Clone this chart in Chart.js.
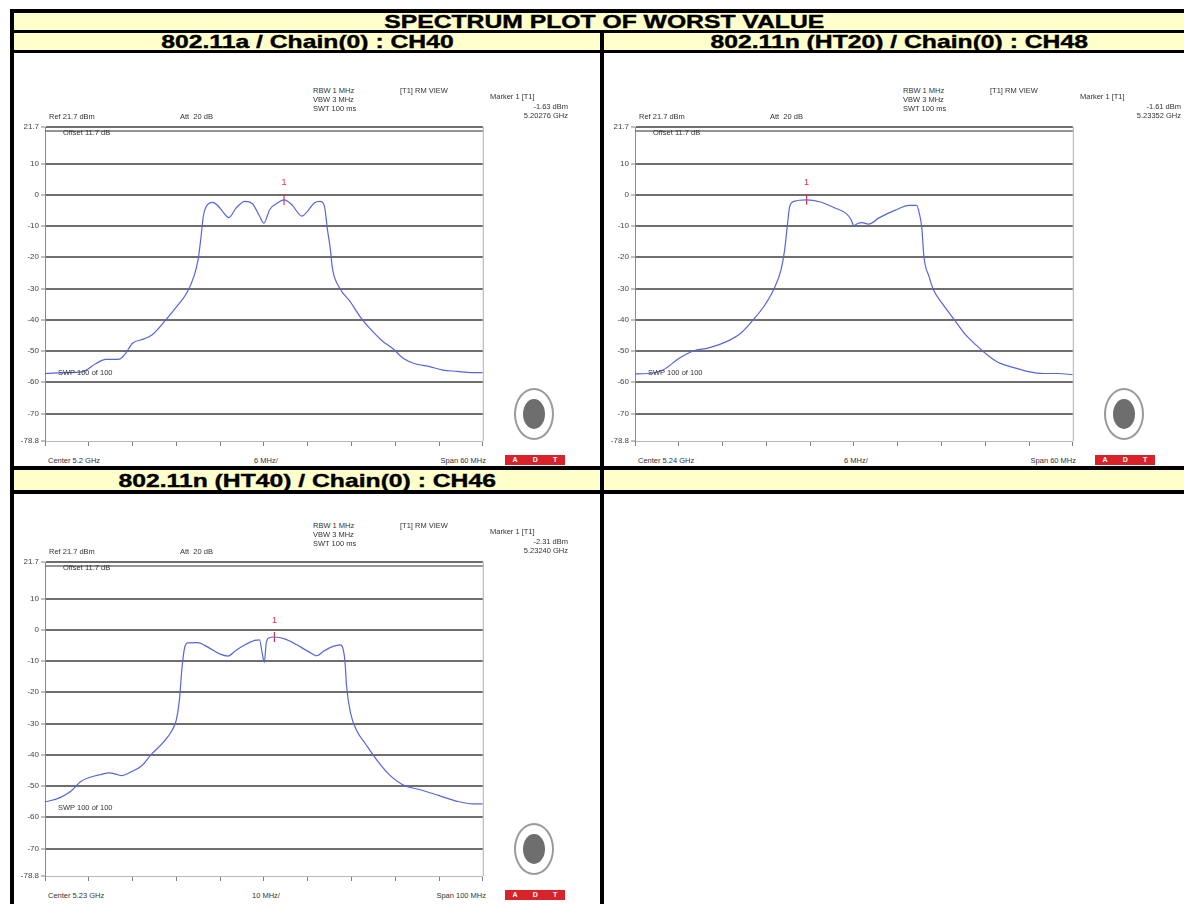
<!DOCTYPE html>
<html>
<head>
<meta charset="utf-8">
<script src="https://cdn.jsdelivr.net/npm/chart.js@4"></script>
<style>
body{margin:0;width:1184px;height:904px;overflow:hidden;background:#fff;position:relative;font-family:"Liberation Sans",Arial,sans-serif}
.box{position:absolute}
.hdr{position:absolute;background:#FFFFCC;display:flex;align-items:center;justify-content:center;overflow:hidden}
.hdr span{display:inline-block;font-weight:bold;font-size:19px;line-height:17px;color:#000;transform:scaleX(1.3);white-space:nowrap;-webkit-text-stroke:0.4px #000}
.t{position:absolute;font-size:7.5px;line-height:9px;color:#333;white-space:nowrap}
.r{text-align:right}
.logo{position:absolute;width:36px;height:48px;border:2px solid #9a9a9a;border-radius:50%;background:#fff}
.logo i{position:absolute;left:7px;top:9px;width:22px;height:30px;border-radius:50%;background:#6e6e6e}
.adt{position:absolute;width:60px;height:10px;background:#d9232a;color:#fff;font-size:7px;font-weight:bold;line-height:10px;display:flex;justify-content:space-around}
canvas{position:absolute}
</style>
</head>
<body>
<div class="box" style="left:10px;top:9px;width:1184px;height:900px;background:#000"></div>
<div class="hdr" style="left:14px;top:13px;width:1180px;height:17px"><span>SPECTRUM PLOT OF WORST VALUE</span></div>
<div class="hdr" style="left:14px;top:33px;width:586px;height:17px"><span>802.11a / Chain(0) : CH40</span></div>
<div class="hdr" style="left:604px;top:33px;width:590px;height:17px"><span>802.11n (HT20) / Chain(0) : CH48</span></div>
<div class="box" style="left:14px;top:53px;width:586px;height:413px;background:#fff"></div>
<div class="box" style="left:604px;top:53px;width:590px;height:413px;background:#fff"></div>
<div class="hdr" style="left:14px;top:470px;width:586px;height:20px"><span>802.11n (HT40) / Chain(0) : CH46</span></div>
<div class="hdr" style="left:604px;top:470px;width:590px;height:20px"></div>
<div class="box" style="left:14px;top:494px;width:586px;height:420px;background:#fff"></div>
<div class="box" style="left:604px;top:494px;width:590px;height:420px;background:#fff"></div>

<canvas id="cA" width="475" height="334" style="left:14px;top:117px"></canvas>
<canvas id="cB" width="475" height="334" style="left:604px;top:117px"></canvas>
<canvas id="cC" width="475" height="334" style="left:14px;top:552px"></canvas>

<div id="texts"></div>

<script>
// ---------- data ----------
const yTicks = [21.7, 10, 0, -10, -20, -30, -40, -50, -60, -70, -78.8];
const xTicksA = [-30, -24, -18, -12, -6, 0, 6, 12, 18, 24, 30];
const xTicksB = [-30, -24, -18, -12, -6, 0, 6, 12, 18, 24, 30];
const xTicksC = [-50, -40, -30, -20, -10, 0, 10, 20, 30, 40, 50];

// 802.11a CH40 : offset from 5.2 GHz (MHz) / level (dBm)
const freqA = [-30,-27,-25,-23,-21.7,-20.5,-19.7,-19,-18,-16.5,-15.3,-13.5,-12.1,-10.6,-9.6,-9.0,-8.6,-8.3,-7.7,-7.0,-6.3,-5.5,-4.8,-3.8,-2.6,-1.6,-0.6,0,0.8,2.0,2.76,3.8,5.2,6.0,6.9,7.7,8.3,8.7,9.1,9.4,10.4,11.8,13.3,14.8,16.2,17.7,19.2,20.6,22.6,24.5,26.5,28.4,30];
const levelA = [-57.2,-56.9,-56.7,-54,-52.7,-52.7,-52.5,-50.9,-47.5,-46.2,-44.8,-40.2,-36.2,-31.5,-26.2,-20.5,-13.1,-6.8,-3.1,-2.4,-3.5,-5.8,-7.3,-4.2,-2.1,-2.8,-6.8,-9.1,-4.7,-2.4,-1.63,-3.1,-6.8,-5.2,-2.6,-2.1,-3.7,-11,-17.3,-23.6,-29.9,-34.1,-39.4,-43.5,-46.7,-49.3,-52.5,-54,-54.9,-56.1,-56.5,-56.9,-56.9];

// 802.11n HT20 CH48 : offset from 5.24 GHz
const freqB = [-30,-28.1,-26.1,-24,-22,-19.9,-17.1,-15.6,-13.8,-12.3,-10.9,-10,-9.5,-9.1,-8.8,-8.2,-6.48,-4.6,-2.6,-1.0,-0.4,0,0.5,1.1,2.0,3.5,5.6,7.6,8.6,9.0,9.3,9.6,10.3,10.9,12.2,13.7,15.2,16.8,18.3,19.8,21.9,23.9,26,28,30];
const levelB = [-57.3,-57.2,-56,-52.4,-50,-49,-46.6,-44.5,-40,-35.6,-29.8,-24.1,-17.8,-9.4,-3.7,-2.1,-1.61,-2.3,-4.2,-6.1,-7.9,-9.9,-9.2,-8.9,-9.4,-7.3,-5,-3.4,-3.4,-6.3,-10.5,-19.9,-26.2,-30.4,-35.1,-39.8,-44.5,-48.2,-51.3,-53.7,-55.3,-56.6,-57.2,-57.2,-57.6];

// 802.11n HT40 CH46 : offset from 5.23 GHz
const freqC = [-50,-46.7,-44.1,-41.9,-39.7,-37.5,-35.3,-33.6,-32.5,-30.5,-27.9,-25.7,-23.1,-20.9,-20,-19.3,-18.7,-18.1,-17.4,-15.2,-12.6,-10,-8.2,-6.5,-4.3,-2.1,-1.0,-0.35,0.1,0.5,1.0,2.4,4.9,7.5,10.1,12.1,13.6,15.8,17.4,18,18.5,18.9,19.8,21.1,23.3,25.9,28.5,32,35.5,39.9,44.2,47.7,50];
const levelC = [-55.1,-53.8,-51.7,-48.6,-47.2,-46.4,-45.8,-46.3,-46.7,-45.6,-43.5,-39.9,-36.2,-32,-28.8,-22.5,-12,-5.7,-4.2,-4.1,-5.7,-7.8,-8.4,-6.7,-4.8,-3.4,-3.2,-7.8,-10.4,-4.6,-2.7,-2.31,-3.0,-4.8,-6.9,-8.3,-6.9,-5.3,-4.8,-5.7,-9.9,-18.3,-26.7,-32,-36.7,-41.9,-46.2,-49.8,-51.1,-53,-54.9,-55.7,-55.7];

const markerFreq = [2.76, -6.48, 2.4];
const markerLevel = [-1.63, -1.61, -2.31];

// ---------- annotation text ----------
const panels = [
  {dx:0,   dy:0,   center:'Center 5.2 GHz',  div:'6 MHz/',  span:'Span 60 MHz',  mval:'-1.63 dBm', mfreq:'5.20276 GHz', mr:568},
  {dx:590, dy:0,   center:'Center 5.24 GHz', div:'6 MHz/',  span:'Span 60 MHz',  mval:'-1.61 dBm', mfreq:'5.23352 GHz', mr:1181},
  {dx:0,   dy:435, center:'Center 5.23 GHz', div:'10 MHz/', span:'Span 100 MHz', mval:'-2.31 dBm', mfreq:'5.23240 GHz', mr:568}
];
let html = '';
function t(x, y, s, cls){ html += `<div class="t ${cls||''}" style="left:${x}px;top:${y}px">${s}</div>`; }
function tr(xr, y, s){ html += `<div class="t r" style="left:${xr-80}px;width:80px;top:${y}px">${s}</div>`; }
function tc(xc, y, s){ html += `<div class="t" style="left:${xc-40}px;width:80px;text-align:center;top:${y}px">${s}</div>`; }
panels.forEach(p => {
  const X = v => v + p.dx, Y = v => v + p.dy;
  t(X(313), Y(86), 'RBW 1 MHz');
  t(X(313), Y(95), 'VBW 3 MHz');
  t(X(313), Y(104), 'SWT 100 ms');
  t(X(400), Y(86), '[T1] RM VIEW');
  t(X(490), Y(92), 'Marker 1 [T1]');
  tr(p.mr, Y(102), p.mval);
  tr(p.mr, Y(111), p.mfreq);
  t(X(49), Y(112), 'Ref 21.7 dBm');
  t(X(180), Y(112), 'Att&nbsp; 20 dB');
  t(X(63), Y(128), 'Offset 11.7 dB');
  t(X(58), Y(368), 'SWP 100 of 100');
  t(X(48), Y(456), p.center);
  tc(X(266), Y(456), p.div);
  tr(X(486), Y(456), p.span);
  html += `<div class="logo" style="left:${X(514)}px;top:${Y(388)}px"><i></i></div>`;
  html += `<div class="adt" style="left:${X(505)}px;top:${Y(455)}px"><span>A</span><span>D</span><span>T</span></div>`;
});
document.getElementById('texts').innerHTML = html;

// ---------- charts ----------
const deco = {
  id: 'deco',
  afterDatasetsDraw(chart) {
    const {ctx, chartArea: a, scales: {x, y}} = chart;
    ctx.save();
    ctx.strokeStyle = '#b0b0b0'; ctx.lineWidth = 1;
    ctx.beginPath(); ctx.moveTo(a.right + 0.5, a.top); ctx.lineTo(a.right + 0.5, a.bottom); ctx.stroke();
    ctx.strokeStyle = '#707070'; ctx.lineWidth = 1.5;
    ctx.beginPath(); ctx.moveTo(a.left, a.top + 4); ctx.lineTo(a.right, a.top + 4); ctx.stroke();
    const m = chart.data.datasets[1].data[0];
    const px = x.getPixelForValue(m.x), py = y.getPixelForValue(m.y);
    ctx.fillStyle = '#e03040';
    ctx.font = '9px "Liberation Sans"';
    ctx.textAlign = 'center'; ctx.textBaseline = 'middle';
    ctx.fillText('1', px, py - 17);
    ctx.restore();
  }
};

function makeChart(id, freq, level, xTicks, mf, ml) {
  const pts = freq.map((f, i) => ({x: f, y: level[i]}));
  new Chart(document.getElementById(id), {
    type: 'line',
    data: {
      datasets: [
        {data: pts, borderColor: '#5566dd', borderWidth: 1.2, pointRadius: 0, cubicInterpolationMode: 'monotone', fill: false},
        {data: [{x: mf, y: ml}], showLine: false, pointStyle: 'line', rotation: 90, pointRadius: 5, borderColor: '#e03040', borderWidth: 1.2}
      ]
    },
    options: {
      responsive: false, animation: false, events: [],
      layout: {padding: {top: 10, right: 2, left: 0, bottom: 0}},
      plugins: {legend: {display: false}, tooltip: {enabled: false}},
      scales: {
        x: {
          type: 'linear', min: xTicks[0], max: xTicks[xTicks.length - 1],
          afterBuildTicks: s => { s.ticks = xTicks.map(v => ({value: v})); },
          afterFit: s => { s.height = 10; },
          ticks: {callback: () => '', autoSkip: false},
          grid: {drawOnChartArea: false, drawTicks: true, tickLength: 5, tickColor: '#808080', tickWidth: 1},
          border: {display: true, color: '#b8b8b8', width: 1}
        },
        y: {
          type: 'linear', min: -78.8, max: 21.7,
          afterBuildTicks: s => { s.ticks = yTicks.map(v => ({value: v})); },
          afterFit: s => { s.width = 31; },
          ticks: {autoSkip: false, padding: 2, color: '#444', font: {family: 'Liberation Sans', size: 8},
                  callback: v => String(v)},
          grid: {
            color: c => (c.tick && c.tick.value === -78.8) ? 'rgba(0,0,0,0)' : '#6e6e6e',
            lineWidth: 2, drawTicks: true, tickLength: 4, tickColor: '#808080', tickWidth: 1
          },
          border: {display: true, color: '#8a8a8a', width: 1}
        }
      }
    },
    plugins: [deco]
  });
}
makeChart('cA', freqA, levelA, xTicksA, markerFreq[0], markerLevel[0]);
makeChart('cB', freqB, levelB, xTicksB, markerFreq[1], markerLevel[1]);
makeChart('cC', freqC, levelC, xTicksC, markerFreq[2], markerLevel[2]);
</script>
</body>
</html>
